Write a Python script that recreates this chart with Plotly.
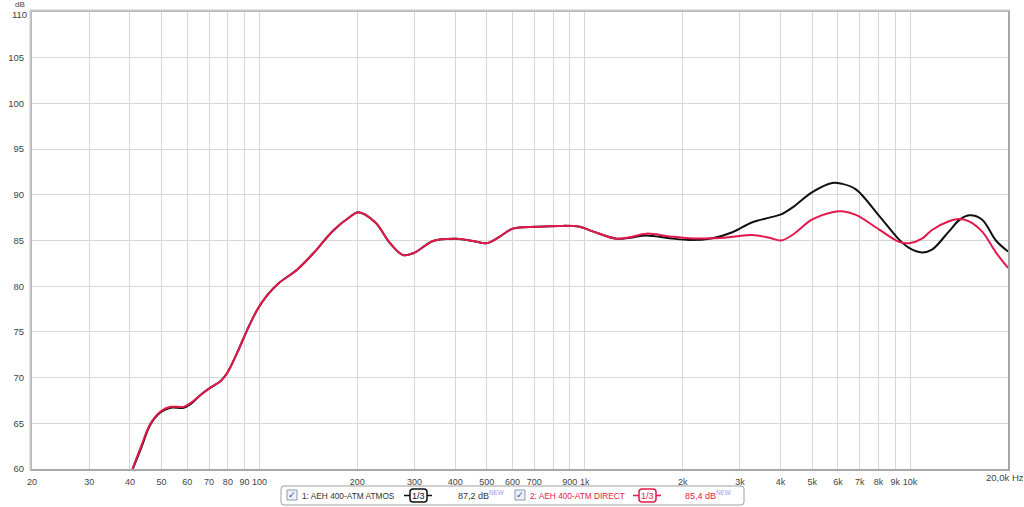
import math
import plotly.graph_objects as go

# ---------------- data ----------------
freq_hz = [40.7, 43.2, 46.3, 49.7, 53.3, 58.5, 61.4, 65.9, 70.7, 75.9, 79.6, 85.4,
           91.7, 98.4, 105.6, 114.4, 130.5, 146.5, 168.7, 190.1, 201.2, 226.9,
           252.2, 276.5, 300.9, 341.8, 404.1, 453.3, 499.3, 540.9, 601.3, 711,
           838, 965, 1058, 1251, 1374, 1546, 1823, 2099, 2470, 2844, 3276, 3694,
           4013, 4345, 5005, 5765, 6185, 6816, 8036, 9254, 9930, 10884, 11679,
           13169, 14134, 15170, 16633, 18355, 20000]

atmos_db = [59.9, 62.2, 64.9, 66.2, 66.7, 66.7, 67.1, 68.1, 68.9, 69.6, 70.5, 72.7,
            75.2, 77.4, 79.0, 80.3, 81.8, 83.6, 86.1, 87.6, 88.1, 87.0,
            84.7, 83.4, 83.7, 84.95, 85.2, 84.95, 84.7, 85.3, 86.3, 86.5,
            86.6, 86.5, 86.0, 85.2, 85.3, 85.55, 85.25, 85.05, 85.25, 85.9, 87.0, 87.5,
            87.85, 88.6, 90.3, 91.3, 91.2, 90.6, 87.7, 85.1, 84.2, 83.7, 84.0,
            86.0, 87.2, 87.75, 87.3, 85.0, 83.8]

direct_db = [60.0, 62.4, 65.0, 66.3, 66.8, 66.8, 67.2, 68.1, 68.9, 69.6, 70.5, 72.7,
             75.2, 77.4, 79.0, 80.3, 81.8, 83.6, 86.1, 87.6, 88.1, 87.0,
             84.7, 83.4, 83.7, 84.95, 85.2, 84.95, 84.7, 85.3, 86.3, 86.5,
             86.6, 86.5, 86.0, 85.2, 85.35, 85.75, 85.45, 85.25, 85.25, 85.4, 85.6, 85.3,
             85.0, 85.6, 87.3, 88.1, 88.2, 87.8, 86.2, 84.85, 84.7, 85.2, 86.15,
             87.1, 87.35, 87.1, 86.0, 83.7, 82.0]

x_tick_vals = [20, 30, 40, 50, 60, 70, 80, 90, 100, 200, 300, 400, 500, 600, 700, 800,
               900, 1000, 2000, 3000, 4000, 5000, 6000, 7000, 8000, 9000, 10000, 20000]
x_tick_text = ["20", "30", "40", "50", "60", "70", "80", "90", "100", "200", "300", "400",
               "500", "600", "700", " ", "900", "1k", "2k", "3k", "4k", "5k", "6k", "7k",
               "8k", "9k", "10k", " "]
y_tick_vals = [60, 65, 70, 75, 80, 85, 90, 95, 100, 105, 110]
y_tick_text = ["60", "65", "70", "75", "80", "85", "90", "95", "100", "105", " "]
y_top_label = "110"

series_names = ["1: AEH 400-ATM ATMOS", "2: AEH 400-ATM DIRECT"]
series_levels = ["87,2 dB", "85,4 dB"]

# ---------------- styling ----------------
W, H = 1024, 507
ML, MR, MT, MB = 32, 16, 12, 38
PW, PH = W - ML - MR, H - MT - MB
BLACK = "#111111"
RED = "#e3194b"
GRID = "#d6d6d6"
FRAME = "#a8a8a8"
FONT = "Liberation Sans"
TXT = "#444444"
NEWC = "#9a9cf0"


def px(x):
    return (x - ML) / PW


def py(y):
    return (H - MB - y) / PH


fig = go.Figure()
fig.add_trace(go.Scatter(x=freq_hz, y=atmos_db, mode="lines",
                         line=dict(color=BLACK, width=2, shape="spline", smoothing=1.0),
                         name=series_names[0], showlegend=False))
fig.add_trace(go.Scatter(x=freq_hz, y=direct_db, mode="lines",
                         line=dict(color=RED, width=2, shape="spline", smoothing=1.0),
                         name=series_names[1], showlegend=False))

fig.update_xaxes(type="log",
                 range=[math.log10(20) - 1e-6, math.log10(20000) + 1e-6],
                 tickmode="array", tickvals=x_tick_vals, ticktext=x_tick_text,
                 showgrid=True, gridcolor=GRID, gridwidth=1,
                 showline=True, linecolor=FRAME, linewidth=2, mirror=True,
                 ticks="", ticklabelstandoff=3, tickangle=0, automargin=False,
                 tickfont=dict(family=FONT, size=9, color=TXT),
                 zeroline=False, fixedrange=True)
fig.update_yaxes(range=[60, 110], tickmode="array", tickvals=y_tick_vals, ticktext=y_tick_text,
                 showgrid=True, gridcolor=GRID, gridwidth=1,
                 showline=True, linecolor=FRAME, linewidth=2, mirror=True,
                 ticks="", ticklabelstandoff=4, automargin=False,
                 tickfont=dict(family=FONT, size=9.5, color=TXT),
                 zeroline=False, fixedrange=True)

shapes = []
# extra shading on left and top edges of the frame
shapes.append(dict(type="line", xref="paper", yref="paper", x0=px(30.5), x1=px(30.5),
                   y0=py(10), y1=py(470), line=dict(color="#c8c8c8", width=2)))
shapes.append(dict(type="line", xref="paper", yref="paper", x0=px(30), x1=px(1009),
                   y0=py(10.5), y1=py(10.5), line=dict(color="#c8c8c8", width=2)))


def rrect(x0, y0, x1, y1, r):
    X0, X1 = px(x0), px(x1)
    Y0, Y1 = py(y0), py(y1)
    rx, ry = r / PW, r / PH
    return (f"M {X0+rx},{Y0} L {X1-rx},{Y0} Q {X1},{Y0} {X1},{Y0-ry} "
            f"L {X1},{Y1+ry} Q {X1},{Y1} {X1-rx},{Y1} L {X0+rx},{Y1} "
            f"Q {X0},{Y1} {X0},{Y1+ry} L {X0},{Y0-ry} Q {X0},{Y0} {X0+rx},{Y0} Z")


# legend box
shapes.append(dict(type="path", xref="paper", yref="paper", path=rrect(281, 486, 744, 505, 3),
                   line=dict(color="#a0a0a0", width=1), fillcolor="white"))

annotations = []
annotations.append(dict(text="dB", xref="paper", yref="paper", x=px(20), y=py(4),
                        showarrow=False, xanchor="center", yanchor="middle", borderpad=0,
                        font=dict(family=FONT, size=8, color=TXT)))
annotations.append(dict(text=y_top_label, xref="paper", yref="paper", x=px(28), y=py(14),
                        showarrow=False, xanchor="right", yanchor="middle", borderpad=0,
                        font=dict(family=FONT, size=9.5, color=TXT)))
annotations.append(dict(text="20,0k Hz", xref="paper", yref="paper", x=px(1005), y=py(478),
                        showarrow=False, xanchor="center", yanchor="middle",
                        font=dict(family=FONT, size=9.5, color=TXT)))

items = [
    dict(cb=287, name_x=300, icon=404, lvl=456, color="#333333", icon_color="#111111"),
    dict(cb=515, name_x=528, icon=633, lvl=683, color=RED, icon_color=RED),
]
for i, it in enumerate(items):
    cb = it["cb"]
    shapes.append(dict(type="rect", xref="paper", yref="paper", x0=px(cb), x1=px(cb + 10),
                       y0=py(490), y1=py(500), line=dict(color="#8a9ab0", width=1),
                       fillcolor="#eef2f8"))
    annotations.append(dict(text="✓", xref="paper", yref="paper", x=px(cb + 5), y=py(495),
                            showarrow=False, xanchor="center", yanchor="middle",
                            font=dict(family="DejaVu Sans", size=9, color="#2c4a9a")))
    annotations.append(dict(text=series_names[i], xref="paper", yref="paper",
                            x=px(it["name_x"]), y=py(495.5), showarrow=False,
                            xanchor="left", yanchor="middle",
                            font=dict(family=FONT, size=8.3, color=it["color"])))
    ic = it["icon"]
    shapes.append(dict(type="line", xref="paper", yref="paper", x0=px(ic), x1=px(ic + 28),
                       y0=py(495.5), y1=py(495.5), line=dict(color=it["icon_color"], width=1.5)))
    shapes.append(dict(type="path", xref="paper", yref="paper",
                       path=rrect(ic + 6, 489, ic + 23, 502, 3),
                       line=dict(color=it["icon_color"], width=1.5), fillcolor="white"))
    annotations.append(dict(text="1/3", xref="paper", yref="paper", x=px(ic + 14.5), y=py(495.5),
                            showarrow=False, xanchor="center", yanchor="middle",
                            font=dict(family=FONT, size=9, color=it["icon_color"])))
    annotations.append(dict(text=series_levels[i]
                            + f"<sup><span style='color:{NEWC}'>NEW</span></sup>",
                            xref="paper", yref="paper",
                            x=px(it["lvl"]), y=py(495), showarrow=False,
                            xanchor="left", yanchor="middle",
                            font=dict(family=FONT, size=9, color=it["color"])))

fig.update_layout(width=W, height=H, margin=dict(l=ML, r=MR, t=MT, b=MB, autoexpand=False),
                  paper_bgcolor="white", plot_bgcolor="white",
                  shapes=shapes, annotations=annotations, showlegend=False)

fig.write_html("out.html", config={"displayModeBar": False},
               post_script="document.body.style.margin='0px';document.body.style.overflow='hidden';")
